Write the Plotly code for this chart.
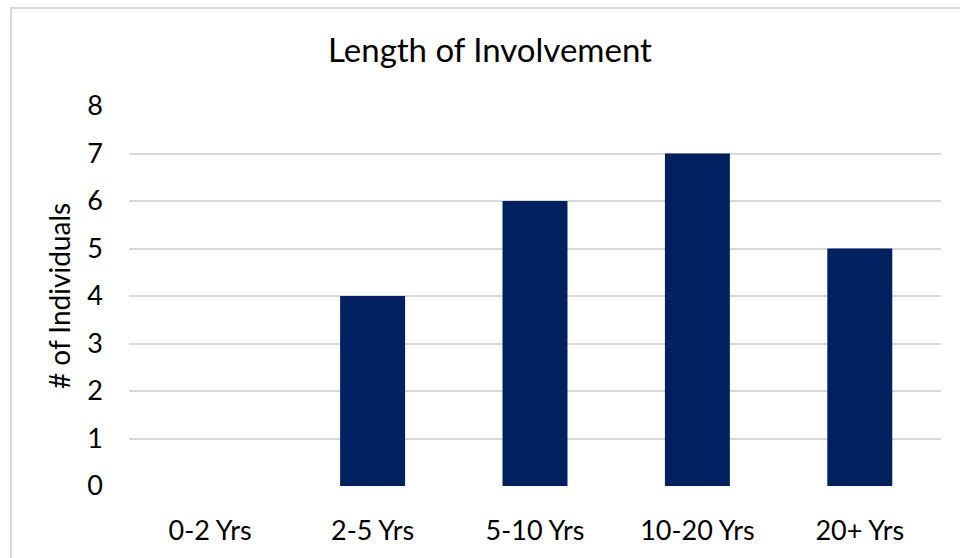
import plotly.graph_objects as go

categories = ["0-2 Yrs", "2-5 Yrs", "5-10 Yrs", "10-20 Yrs", "20+ Yrs"]
individuals = [0, 4, 6, 7, 5]
y_ticks = [0, 1, 2, 3, 4, 5, 6, 7, 8]

FONT = "Lato"

fig = go.Figure(
    go.Bar(
        x=categories,
        y=individuals,
        marker=dict(color="#002060", line=dict(width=0)),
        width=0.4,
        hoverinfo="skip",
    )
)

fig.update_layout(
    width=960,
    height=558,
    margin=dict(l=129, r=19, t=106, b=68),
    paper_bgcolor="white",
    plot_bgcolor="white",
    showlegend=False,
    title=dict(
        text="Length of Involvement",
        font=dict(family=FONT, size=33, color="#000000"),
        x=490 / 960,
        xanchor="center",
        y=1 - 50 / 558,
        yanchor="middle",
    ),
    font=dict(family=FONT, color="#000000"),
    shapes=[
        dict(
            type="rect",
            xref="paper",
            yref="paper",
            x0=(11 - 129) / 812,
            x1=(975 - 129) / 812,
            y0=(490 - 570) / 384,
            y1=(490 - 7) / 384,
            line=dict(color="#d9d9d9", width=2),
            fillcolor="rgba(0,0,0,0)",
            layer="below",
        )
    ],
)

fig.update_xaxes(
    showgrid=False,
    showline=False,
    zeroline=False,
    ticks="",
    tickfont=dict(family=FONT, size=27, color="#000000"),
    ticklabelstandoff=26,
)

fig.update_yaxes(
    range=[0, 8],
    tickvals=y_ticks,
    showgrid=True,
    gridcolor="#d9d9d9",
    gridwidth=1.5,
    zeroline=False,
    showline=False,
    ticks="",
    tickfont=dict(family=FONT, size=27, color="#000000"),
    ticklabelstandoff=25,
    title=dict(
        text="# of Individuals",
        font=dict(family=FONT, size=28, color="#000000"),
        standoff=8,
    ),
    automargin=False,
)

fig.write_html(
    "out.html",
    config={"displayModeBar": False},
    post_script="document.body.style.margin='0';document.body.style.padding='0';",
)
